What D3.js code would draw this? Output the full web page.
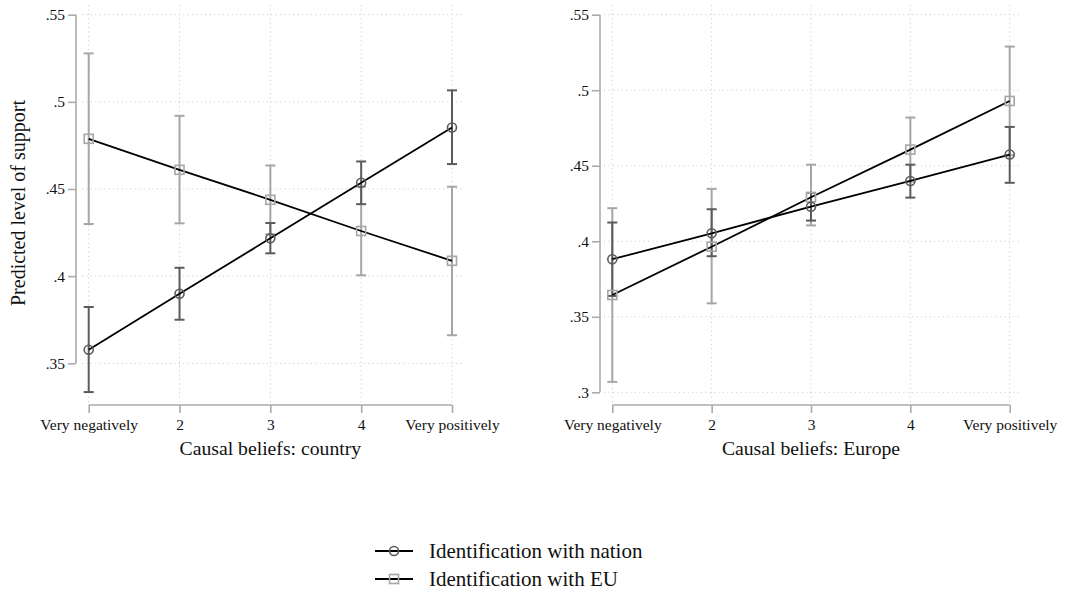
<!DOCTYPE html>
<html>
<head>
<meta charset="utf-8">
<script src="https://cdn.jsdelivr.net/npm/d3@7"></script>
<style>
  html, body { margin: 0; padding: 0; background: #fff; }
  svg { display: block; }
  svg text { font-family: "Liberation Serif", "Times New Roman", Times, "Tinos", "DejaVu Serif", serif; }
</style>
</head>
<body>
<svg id="chart" width="1065" height="599"></svg>
<script>
// ---- data ----
const categories = ["Very negatively", "2", "3", "4", "Very positively"];
const seriesNames = ["Identification with nation", "Identification with EU"];

// Panel 1: Causal beliefs: country
const countryNation    = [0.3578, 0.3899, 0.4217, 0.4536, 0.4853];
const countryNationLo  = [0.3335, 0.3750, 0.4131, 0.4413, 0.4643];
const countryNationHi  = [0.3823, 0.4048, 0.4305, 0.4658, 0.5066];
const countryEU        = [0.4788, 0.4610, 0.4438, 0.4259, 0.4088];
const countryEULo      = [0.4299, 0.4303, 0.4240, 0.4005, 0.3661];
const countryEUHi      = [0.5278, 0.4920, 0.4635, 0.4513, 0.4513];

// Panel 2: Causal beliefs: Europe
const europeNation     = [0.3881, 0.4053, 0.4229, 0.4399, 0.4574];
const europeNationLo   = [0.3638, 0.3901, 0.4137, 0.4289, 0.4387];
const europeNationHi   = [0.4124, 0.4212, 0.4321, 0.4507, 0.4757];
const europeEU         = [0.3644, 0.3964, 0.4291, 0.4607, 0.4929];
const europeEULo       = [0.3069, 0.3589, 0.4105, 0.4395, 0.4569];
const europeEUHi       = [0.4219, 0.4347, 0.4507, 0.4819, 0.5289];

const countryTicks = [0.35, 0.40, 0.45, 0.50, 0.55];
const europeTicks  = [0.30, 0.35, 0.40, 0.45, 0.50, 0.55];

const FONT = '"Liberation Serif", "Times New Roman", Times, Tinos, "DejaVu Serif", serif';
const fmt = v => { const s = d3.format(".2~f")(v); return s.replace(/^0/, ""); };

const svg = d3.select("#chart");
const colNation = "#5b5b5b", colEU = "#a6a6a6", colAxis = "#ababab", colGrid = "#cfcfcf";

function panel(cfg) {
  const g = svg.append("g");
  const x = d3.scalePoint().domain(categories).range([cfg.x0, cfg.x1]);
  const y = d3.scaleLinear().domain([cfg.ticks[0], cfg.ticks[cfg.ticks.length - 1]]).range([cfg.yb, cfg.yt]);

  // gridlines
  g.append("g").selectAll("line").data(cfg.ticks).join("line")
    .attr("x1", cfg.gx0).attr("x2", cfg.gx1)
    .attr("y1", d => y(d)).attr("y2", d => y(d))
    .attr("stroke", colGrid).attr("stroke-width", 1).attr("stroke-dasharray", "1.2,3.2");
  g.append("g").selectAll("line").data(categories).join("line")
    .attr("x1", d => x(d)).attr("x2", d => x(d))
    .attr("y1", cfg.gy0).attr("y2", cfg.gy1)
    .attr("stroke", colGrid).attr("stroke-width", 1).attr("stroke-dasharray", "1.2,3.2");

  // y axis
  const ya = d3.axisLeft(y).tickValues(cfg.ticks).tickFormat(fmt).tickSize(8).tickPadding(3);
  const yg = g.append("g").attr("transform", `translate(${cfg.yax},0)`).call(ya)
    .attr("font-family", FONT).attr("font-size", 15.5);
  yg.select(".domain").attr("stroke", colAxis).attr("stroke-width", 1.6).attr("d", `M0,${y(cfg.ticks[0])}V${y(cfg.ticks[cfg.ticks.length-1])}`);
  yg.selectAll(".tick line").attr("stroke", colAxis).attr("stroke-width", 1.6);
  yg.selectAll(".tick text").attr("fill", "#111");

  // x axis
  const xa = d3.axisBottom(x).tickSize(8).tickPadding(6);
  const xg = g.append("g").attr("transform", `translate(0,${cfg.xay})`).call(xa)
    .attr("font-family", FONT).attr("font-size", 15.5);
  xg.select(".domain").attr("stroke", colAxis).attr("stroke-width", 1.6).attr("d", `M${cfg.x0},0H${cfg.x1}`);
  xg.selectAll(".tick line").attr("stroke", colAxis).attr("stroke-width", 1.6);
  xg.selectAll(".tick text").attr("fill", "#111");

  // x title
  g.append("text").attr("x", (cfg.x0 + cfg.x1) / 2).attr("y", 455)
    .attr("text-anchor", "middle").attr("font-family", FONT).attr("font-size", 19.7).attr("fill", "#111").text(cfg.title);

  const series = [
    { v: cfg.eu, lo: cfg.euLo, hi: cfg.euHi, col: colEU, shape: "square" },
    { v: cfg.nat, lo: cfg.natLo, hi: cfg.natHi, col: colNation, shape: "circle" }
  ];

  // CIs
  series.forEach(s => {
    const eg = g.append("g");
    categories.forEach((c, i) => {
      const cx = x(c);
      eg.append("line").attr("x1", cx).attr("x2", cx).attr("y1", y(s.lo[i])).attr("y2", y(s.hi[i]))
        .attr("stroke", s.col).attr("stroke-width", 2);
      [s.lo[i], s.hi[i]].forEach(v => {
        eg.append("line").attr("x1", cx - 5).attr("x2", cx + 5).attr("y1", y(v)).attr("y2", y(v))
          .attr("stroke", s.col).attr("stroke-width", 2);
      });
    });
  });

  // lines
  const line = d3.line().x((d, i) => x(categories[i])).y(d => y(d));
  series.forEach(s => {
    g.append("path").attr("d", line(s.v)).attr("fill", "none").attr("stroke", "#000").attr("stroke-width", 1.8);
  });

  // markers
  series.forEach(s => {
    s.v.forEach((v, i) => {
      const cx = x(categories[i]), cy = y(v);
      if (s.shape === "circle") {
        g.append("circle").attr("cx", cx).attr("cy", cy).attr("r", 4.5)
          .attr("fill", "none").attr("stroke", s.col).attr("stroke-width", 1.6);
      } else {
        g.append("rect").attr("x", cx - 4.5).attr("y", cy - 4.5).attr("width", 9).attr("height", 9)
          .attr("fill", "none").attr("stroke", s.col).attr("stroke-width", 1.6);
      }
    });
  });
}

panel({
  x0: 88.7, x1: 452, yb: 363.3, yt: 14.7, ticks: countryTicks, yax: 76, xay: 405,
  gx0: 82, gx1: 464, gy0: 5, gy1: 402, title: "Causal beliefs: country",
  nat: countryNation, natLo: countryNationLo, natHi: countryNationHi,
  eu: countryEU, euLo: countryEULo, euHi: countryEUHi
});
panel({
  x0: 612.3, x1: 1009.7, yb: 392.3, yt: 14.7, ticks: europeTicks, yax: 600, xay: 405,
  gx0: 604, gx1: 1020, gy0: 5, gy1: 402, title: "Causal beliefs: Europe",
  nat: europeNation, natLo: europeNationLo, natHi: europeNationHi,
  eu: europeEU, euLo: europeEULo, euHi: europeEUHi
});

// y title
svg.append("text").attr("transform", "translate(25,203) rotate(-90)")
  .attr("text-anchor", "middle").attr("font-family", FONT).attr("font-size", 20).attr("fill", "#111")
  .text("Predicted level of support");

// legend
const legend = svg.append("g");
const legendRows = [
  { name: seriesNames[0], col: colNation, shape: "circle" },
  { name: seriesNames[1], col: colEU, shape: "square" }
];
legendRows.forEach((r, i) => {
  const ly = 551 + i * 28;
  legend.append("line").attr("x1", 375).attr("x2", 413).attr("y1", ly).attr("y2", ly)
    .attr("stroke", "#000").attr("stroke-width", 1.8);
  if (r.shape === "circle") {
    legend.append("circle").attr("cx", 394).attr("cy", ly).attr("r", 4.5)
      .attr("fill", "none").attr("stroke", r.col).attr("stroke-width", 1.6);
  } else {
    legend.append("rect").attr("x", 389.5).attr("y", ly - 4.5).attr("width", 9).attr("height", 9)
      .attr("fill", "none").attr("stroke", r.col).attr("stroke-width", 1.6);
  }
  legend.append("text").attr("x", 429).attr("y", ly + 7).attr("font-family", FONT).attr("font-size", 21).attr("fill", "#111").text(r.name);
});
</script>
</body>
</html>
